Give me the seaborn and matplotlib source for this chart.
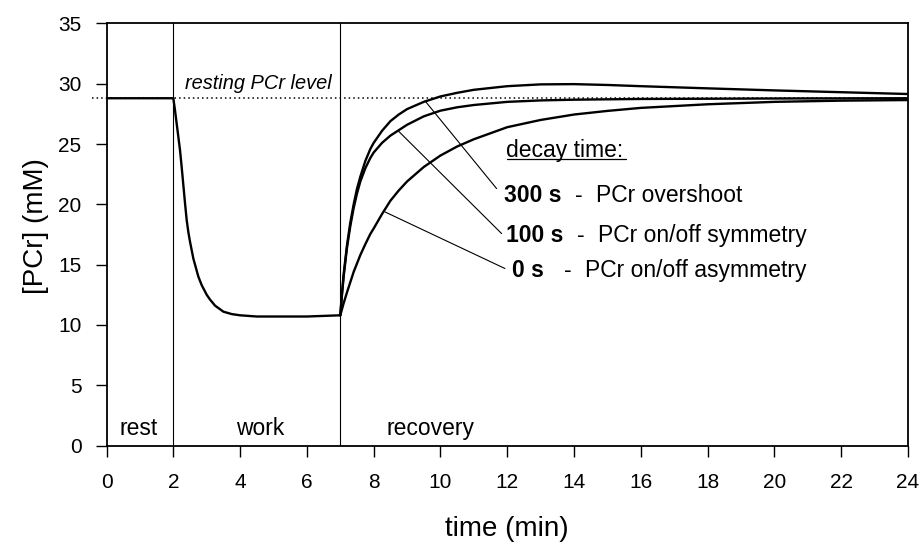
import pandas as pd
import numpy as np
import matplotlib
matplotlib.use('Agg')
import matplotlib.pyplot as plt
import seaborn as sns

# rest + work phase (shared by all three curves)
t_work = [0, 2.0, 2.05, 2.1, 2.15, 2.2, 2.25, 2.3, 2.35, 2.4, 2.45, 2.5, 2.55, 2.6, 2.65, 2.75,
          2.85, 3.0, 3.1, 3.25, 3.5, 3.75, 4.0, 4.5, 5.0, 6.0, 7.0]
pcr_work = [28.8, 28.8, 27.8, 26.7, 25.6, 24.5, 23.1, 21.6, 20.1, 18.7, 17.7, 16.9, 16.2, 15.5, 15.0, 14.0,
            13.3, 12.5, 12.1, 11.6, 11.1, 10.9, 10.8, 10.7, 10.7, 10.7, 10.8]

# recovery phase, one curve per decay time
t_rec = [7.0, 7.05, 7.1, 7.2, 7.3, 7.4, 7.5, 7.6, 7.75, 7.9, 8.0, 8.25, 8.5, 8.75, 9.0, 9.5,
         10, 10.5, 11, 12, 13, 14, 15, 16, 18, 20, 22, 24]
pcr_300 = [10.8, 12.6, 14.2, 16.6, 18.5, 20.0, 21.3, 22.3, 23.6, 24.6, 25.1, 26.1, 26.9, 27.45, 27.9, 28.5,
           28.95, 29.25, 29.5, 29.8, 29.95, 29.97, 29.9, 29.8, 29.62, 29.45, 29.3, 29.15]
pcr_100 = [10.8, 12.5, 14.0, 16.4, 18.2, 19.7, 20.9, 21.9, 23.0, 23.85, 24.3, 25.1, 25.7, 26.15, 26.6, 27.3,
           27.77, 28.05, 28.24, 28.5, 28.62, 28.68, 28.71, 28.74, 28.76, 28.78, 28.79, 28.8]
pcr_0 = [10.8, 11.3, 11.8, 12.7, 13.55, 14.4, 15.1, 15.8, 16.7, 17.55, 18.0, 19.2, 20.3, 21.15, 21.9, 23.1,
         24.05, 24.8, 25.4, 26.4, 27.0, 27.45, 27.75, 28.0, 28.3, 28.5, 28.6, 28.65]

rest_level = 28.8
phase_edges = [2, 7]

labels = ['300 s', '100 s', '0 s']
descr = ['PCr overshoot', 'PCr on/off symmetry', 'PCr on/off asymmetry']
# pointer lines: where they touch the curves and where they end near the labels
touch_t = [9.54, 8.74, 8.34]
touch_y = [28.57, 26.08, 19.37]
end_t = [11.68, 11.83, 11.93]
end_y = [21.31, 17.58, 14.68]

sns.set_style('ticks')
plt.rcParams['font.family'] = ['Liberation Sans', 'DejaVu Sans']
for k in ['text.color', 'axes.labelcolor', 'xtick.color', 'ytick.color', 'axes.edgecolor']:
    plt.rcParams[k] = 'black'

fig = plt.figure(figsize=(9.24, 5.46), dpi=100)
ax = fig.add_axes([0.1153, 0.184, 0.8674, 0.773])

df_work = pd.DataFrame({'t': t_work, 'pcr': pcr_work})
sns.lineplot(data=df_work, x='t', y='pcr', color='black', lw=1.7, ax=ax, sort=False)
for y in [pcr_300, pcr_100, pcr_0]:
    d = pd.DataFrame({'t': t_rec, 'pcr': y})
    sns.lineplot(data=d, x='t', y='pcr', color='black', lw=1.7, ax=ax, sort=False)

for x in phase_edges:
    ax.axvline(x, color='black', lw=0.8)
ax.plot([-0.43, 24], [rest_level, rest_level], ls=(0, (1, 2)), color='black', lw=1.1, clip_on=False)

fs = 16.5
ax.text(2.35, 30.0, 'resting PCr level', fontsize=14.4, fontstyle='italic', va='center')
ax.text(0.97, 1.45, 'rest', fontsize=fs, ha='center', va='center')
ax.text(4.59, 1.45, 'work', fontsize=fs, ha='center', va='center')
ax.text(9.71, 1.45, 'recovery', fontsize=fs, ha='center', va='center')

ax.text(11.95, 24.5, 'decay time:', fontsize=fs, va='center')
ax.plot([11.99, 15.55], [23.8, 23.8], color='black', lw=0.9)
label_y = [20.75, 17.44, 14.54]
label_x = [11.9, 11.96, 12.14]
dash_x = [14.15, 14.2, 13.82]
desc_x = [14.67, 14.73, 14.34]
for i in range(3):
    ax.plot([touch_t[i], end_t[i]], [touch_y[i], end_y[i]], color='black', lw=0.8)
    ax.text(label_x[i], label_y[i], labels[i], fontsize=fs, fontweight='bold', va='center')
    ax.text(dash_x[i], label_y[i], '-', fontsize=fs, va='center', ha='center')
    ax.text(desc_x[i], label_y[i], descr[i], fontsize=fs, va='center')

ax.set_xlim(0, 24)
ax.set_ylim(0, 35)
ax.set_xticks(range(0, 25, 2))
ax.set_yticks(range(0, 36, 5))
ax.tick_params(labelsize=15, length=8, width=1, direction='out', color='black')
ax.tick_params(axis='x', pad=12)
ax.tick_params(axis='y', pad=10)
for s in ax.spines.values():
    s.set_linewidth(1.3)
ax.set_xlabel('time (min)', fontsize=20, labelpad=17)
ax.set_ylabel('[PCr] (mM)', fontsize=20, labelpad=9)
ax.yaxis.set_label_coords(-0.072, 0.52)

fig.savefig('out.png', dpi=100)
